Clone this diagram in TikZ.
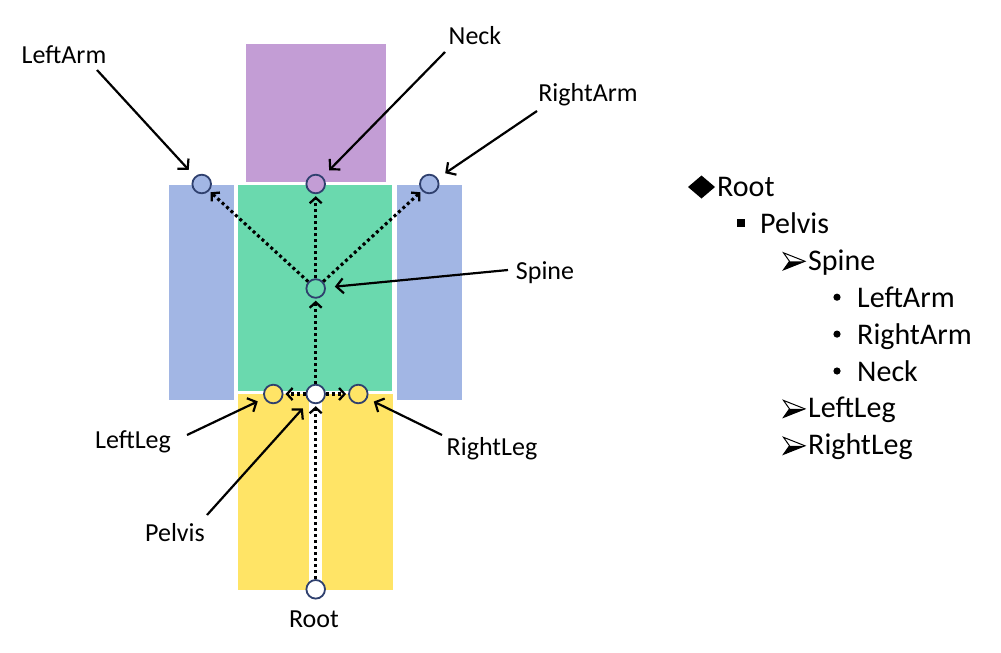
\documentclass[tikz,border=0pt]{standalone}
\usepackage{fontspec}
\setmainfont{Carlito}
\usetikzlibrary{arrows.meta}
\definecolor{headc}{RGB}{195,157,213}
\definecolor{torsoc}{RGB}{106,217,174}
\definecolor{armc}{RGB}{162,182,228}
\definecolor{legc}{RGB}{255,228,102}
\definecolor{jointb}{RGB}{47,64,110}
\begin{document}
\begin{tikzpicture}[x=1pt,y=-1pt,
  part/.style={draw=white,line width=1pt},
  joint/.style={circle,draw=jointb,line width=1.8pt,minimum size=18.6pt,inner sep=0pt},
  bone/.style={line width=3.1pt,dash pattern=on 3pt off 3pt,
    -{Straight Barb[length=5.5pt,width=12pt,line width=2.3pt]},shorten >=2pt},
  lbl/.style={anchor=base,inner sep=0pt,font=\fontsize{26}{31}\selectfont},
  lblarrow/.style={line width=2.2pt,-{Straight Barb[length=7pt,width=15pt,line width=2.2pt]},shorten >=9pt},
  item/.style={anchor=base west,inner sep=0pt,font=\fontsize{30}{36}\selectfont}]
\useasboundingbox (0,0) rectangle (1001,653);
\fill[white] (0,0) rectangle (1001,653);
% body parts
\draw[part,fill=headc] (245.5,43) rectangle (386.5,182);
\draw[part,fill=armc] (168,184) rectangle (234.5,400.5);
\draw[part,fill=armc] (396,184) rectangle (462.5,400.5);
\draw[part,fill=torsoc] (237,184) rectangle (392.5,391.5);
\draw[part,fill=legc] (237,393) rectangle (309.5,590);
\draw[part,fill=legc] (321.5,393) rectangle (393,590);
% joints
\node[joint,fill=armc] (cLeftArm) at (201.7,184) {};
\node[joint,fill=headc] (cNeck) at (315.7,184) {};
\node[joint,fill=armc] (cRightArm) at (429.3,184) {};
\node[joint,fill=torsoc] (cSpine) at (315.7,288.5) {};
\node[joint,fill=legc] (cLeftLeg) at (273.3,394) {};
\node[joint,fill=white] (cPelvis) at (315.7,394) {};
\node[joint,fill=legc] (cRightLeg) at (358.3,394) {};
\node[joint,fill=white] (cRoot) at (315.7,589.3) {};
% bones
\draw[bone] (cSpine) -- (cLeftArm);
\draw[bone] (cSpine) -- (cNeck);
\draw[bone] (cSpine) -- (cRightArm);
\draw[bone] (cPelvis) -- (cSpine);
\draw[bone] (cPelvis) -- (cLeftLeg);
\draw[bone] (cPelvis) -- (cRightLeg);
\draw[bone] (cRoot) -- (cPelvis);
% labels
\node[lbl] (tLeftArm) at (64,63) {LeftArm};
\node[lbl] (tNeck) at (475,44) {Neck};
\node[lbl] (tRightArm) at (588,101) {RightArm};
\node[lbl] (tSpine) at (545,279.5) {Spine};
\node[lbl] (tLeftLeg) at (133,448.5) {LeftLeg};
\node[lbl] (tPelvis) at (175,541.5) {Pelvis};
\node[lbl] (tRightLeg) at (492,455) {RightLeg};
\node[lbl] (tRoot) at (314,627.5) {Root};
\coordinate (sLeftArm) at (97,70);
\coordinate (sNeck) at (445,52);
\coordinate (sRightArm) at (537,111);
\coordinate (sSpine) at (508,270);
\coordinate (sLeftLeg) at (187,435);
\coordinate (sPelvis) at (207,515);
\coordinate (sRightLeg) at (442,435);
\draw[lblarrow] (sLeftArm) -- (cLeftArm);
\draw[lblarrow] (sNeck) -- (cNeck);
\draw[lblarrow] (sRightArm) -- (cRightArm);
\draw[lblarrow] (sSpine) -- (cSpine);
\draw[lblarrow,shorten >=7pt] (sLeftLeg) -- (cLeftLeg);
\draw[lblarrow] (sPelvis) -- (cPelvis);
\draw[lblarrow,shorten >=7pt] (sRightLeg) -- (cRightLeg);
% hierarchy list
\fill (688,187) -- (701.5,175.5) -- (715,187) -- (701.5,198.5) -- cycle;
\node[item] (lRoot) at (717,196.5) {Root};
\fill (737,219.4) rectangle (745,227.4);
\node[item] (lPelvis) at (760,233.4) {Pelvis};
\foreach \yc in {261.3,408.9,445.8}{
  \draw[line width=1pt,line join=miter] (805,\yc) -- (783.5,\yc-8.5) -- (789.5,\yc) -- (783.5,\yc+8.5) -- cycle;
  \fill (805,\yc) -- (789.5,\yc) -- (783.5,\yc+8.5) -- cycle;
}
\node[item] (lSpine) at (808,270.3) {Spine};
\foreach \yc in {297.2,334.1,371}{
  \fill (837,\yc) circle (3.6pt);
}
\node[item] (lLeftArm) at (857,307.2) {LeftArm};
\node[item] (lRightArm) at (857,344.1) {RightArm};
\node[item] (lNeck) at (857,381) {Neck};
\node[item] (lLeftLeg) at (808,417.9) {LeftLeg};
\node[item] (lRightLeg) at (808,454.8) {RightLeg};
\end{tikzpicture}
\end{document}
